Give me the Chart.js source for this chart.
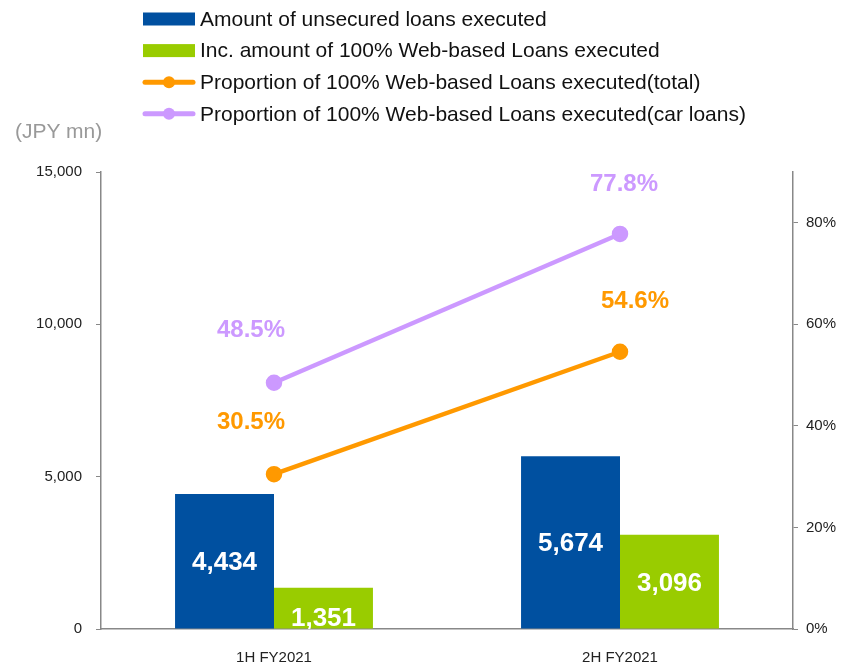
<!DOCTYPE html>
<html>
<head>
<meta charset="utf-8">
<script src="https://cdn.jsdelivr.net/npm/chart.js@4/dist/chart.umd.min.js"></script>
<style>
  html, body { margin: 0; padding: 0; background: #fff; }
  #wrap { position: relative; width: 846px; height: 663px; }
  #unit { position: absolute; left: 15px; top: 119px; font: 21px "Liberation Sans", Arial, sans-serif; color: #999; }
</style>
</head>
<body>
<div id="wrap">
  <canvas id="loans" width="846" height="663"></canvas>
  <div id="unit">(JPY mn)</div>
</div>
<script>
// ── Data ─────────────────────────────────────────────────────
const periods      = ['1H FY2021', '2H FY2021'];
const unsecured    = [4434, 5674];
const webLoans     = [1351, 3096];
const webShareAll  = [30.5, 54.6];
const webShareCar  = [48.5, 77.8];
const amountTicks  = [0, 5000, 10000, 15000];
const shareTicks   = [0, 20, 40, 60, 80];

const FONT   = '"Liberation Sans", Arial, sans-serif';
const BLUE   = '#0050A0';
const GREEN  = '#99CC00';
const ORANGE = '#FF9900';
const PURPLE = '#CC99FF';

// ── Value labels (bars: white centred, lines: bold above point) ──
const valueLabels = {
  id: 'valueLabels',
  afterDatasetsDraw(chart) {
    const { ctx, chartArea } = chart;
    ctx.save();
    ctx.textAlign = 'center';
    ctx.textBaseline = 'middle';
    chart.data.datasets.forEach((ds, i) => {
      const meta = chart.getDatasetMeta(i);
      const shift = ds.labelShift || [];
      meta.data.forEach((el, j) => {
        const [dx, dy] = shift[j] || [0, 0];
        const v = ds.data[j];
        if (ds.type === 'bar') {
          ctx.save();
          ctx.beginPath();
          ctx.rect(chartArea.left, chartArea.top, chartArea.width, chartArea.height);
          ctx.clip();
          ctx.font = 'bold 26px ' + FONT;
          ctx.fillStyle = '#fff';
          ctx.fillText(v.toLocaleString('en-US'), el.x + dx, (el.y + el.base) / 2 + 2 + dy);
          ctx.restore();
        } else {
          ctx.font = 'bold 24px ' + FONT;
          ctx.fillStyle = ds.borderColor;
          ctx.fillText(v.toFixed(1) + '%', el.x + dx, el.y + dy);
        }
      });
    });
    ctx.restore();
  }
};

// ── Legend, stacked top-left ─────────────────────────────────
const sideLegend = {
  id: 'sideLegend',
  afterDraw(chart) {
    const { ctx } = chart;
    const x0 = 143, x1 = 195, y0 = 19, gap = 31.6;
    ctx.save();
    ctx.font = '21px ' + FONT;
    ctx.textBaseline = 'middle';
    ctx.textAlign = 'left';
    chart.data.datasets.forEach((ds, i) => {
      const y = y0 + i * gap;
      if (ds.type === 'bar') {
        ctx.fillStyle = ds.backgroundColor;
        ctx.fillRect(x0, y - 6.5, x1 - x0, 13);
      } else {
        ctx.strokeStyle = ds.borderColor;
        ctx.lineWidth = 5;
        ctx.lineCap = 'round';
        ctx.beginPath(); ctx.moveTo(x0 + 2, y); ctx.lineTo(x1 - 2, y); ctx.stroke();
        ctx.fillStyle = ds.borderColor;
        ctx.beginPath(); ctx.arc((x0 + x1) / 2, y, 6, 0, Math.PI * 2); ctx.fill();
      }
      ctx.fillStyle = '#111';
      ctx.fillText(ds.label, 200, y + 1);
    });
    ctx.restore();
  }
};

const axisBorder = { display: true, color: '#888', width: 1.5 };
const tickFont   = { family: FONT, size: 15 };

new Chart(document.getElementById('loans'), {
  data: {
    labels: periods,
    datasets: [
      { type: 'bar', label: 'Amount of unsecured loans executed', data: unsecured,
        backgroundColor: BLUE, yAxisID: 'y', order: 2,
        categoryPercentage: 0.572, barPercentage: 1 },
      { type: 'bar', label: 'Inc. amount of 100% Web-based Loans executed', data: webLoans,
        backgroundColor: GREEN, yAxisID: 'y', order: 2,
        categoryPercentage: 0.572, barPercentage: 1,
        labelShift: [[0, 9], [0, 0]] },
      { type: 'line', label: 'Proportion of 100% Web-based Loans executed(total)', data: webShareAll,
        borderColor: ORANGE, backgroundColor: ORANGE, borderWidth: 4.5,
        pointRadius: 6, pointHoverRadius: 6, yAxisID: 'y1', order: 1,
        labelShift: [[-23, -52], [15, -50]] },
      { type: 'line', label: 'Proportion of 100% Web-based Loans executed(car loans)', data: webShareCar,
        borderColor: PURPLE, backgroundColor: PURPLE, borderWidth: 4.5,
        pointRadius: 6, pointHoverRadius: 6, yAxisID: 'y1', order: 1,
        labelShift: [[-23, -52], [4, -50]] }
    ]
  },
  options: {
    responsive: false,
    animation: false,
    layout: { padding: { top: 172, left: 0, right: 0, bottom: 0 } },
    plugins: { legend: { display: false }, tooltip: { enabled: false } },
    scales: {
      x: {
        grid: { display: false },
        border: axisBorder,
        ticks: { font: tickFont, color: '#222', padding: 12 },
        afterFit: s => { s.height = 34; }
      },
      y: {
        position: 'left',
        min: 0, max: 15000,
        afterBuildTicks: s => { s.ticks = amountTicks.map(value => ({ value })); },
        grid: { drawOnChartArea: false, drawTicks: true, tickLength: 5, color: '#888' },
        border: axisBorder,
        ticks: { font: tickFont, color: '#222', padding: 14,
                 callback: v => v.toLocaleString('en-US') },
        afterFit: s => { s.width = 101; }
      },
      y1: {
        position: 'right',
        min: 0, max: 90,
        afterBuildTicks: s => { s.ticks = shareTicks.map(value => ({ value })); },
        grid: { drawOnChartArea: false, drawTicks: true, tickLength: 5, color: '#888' },
        border: axisBorder,
        ticks: { font: tickFont, color: '#222', padding: 8, callback: v => v + '%' },
        afterFit: s => { s.width = 53; }
      }
    }
  },
  plugins: [valueLabels, sideLegend]
});
</script>
</body>
</html>
